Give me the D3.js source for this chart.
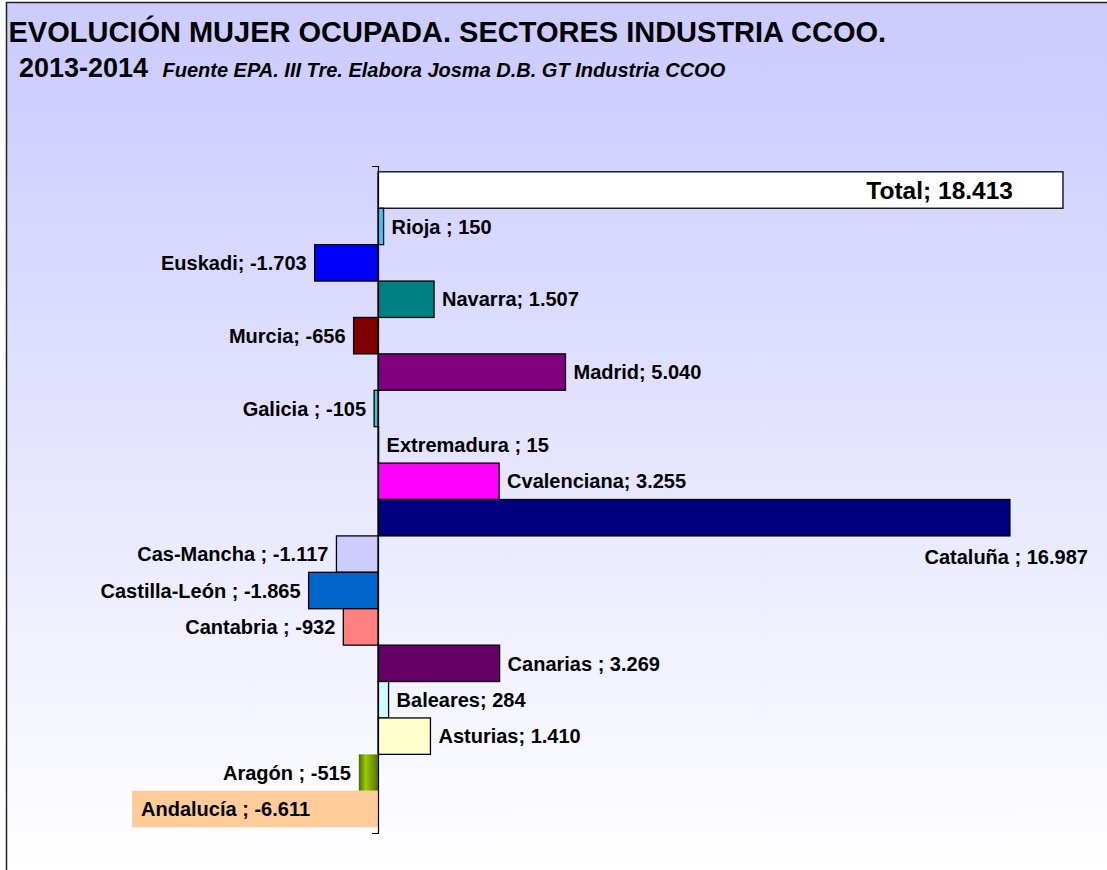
<!DOCTYPE html>
<html>
<head>
<meta charset="utf-8">
<script src="https://cdn.jsdelivr.net/npm/d3@7"></script>
<style>
  body { margin: 0; background: #fff; }
  svg { display: block; font-family: "Liberation Sans", Arial, sans-serif; }
</style>
</head>
<body>
<div class="canvas"></div>
<script>
// data
const regions = ["Total", "Rioja ", "Euskadi", "Navarra", "Murcia", "Madrid", "Galicia ",
  "Extremadura ", "Cvalenciana", "Cataluña ", "Cas-Mancha ", "Castilla-León ", "Cantabria ",
  "Canarias ", "Baleares", "Asturias", "Aragón ", "Andalucía "];
const change = [18413, 150, -1703, 1507, -656, 5040, -105, 15, 3255, 16987, -1117, -1865,
  -932, 3269, 284, 1410, -515, -6611];

const title = "EVOLUCIÓN MUJER OCUPADA. SECTORES INDUSTRIA CCOO.";
const period = "2013-2014";
const source = "Fuente EPA. III Tre. Elabora Josma D.B. GT Industria CCOO";

// styles
const colors = ["#ffffff", "#33ccff", "#0000ff", "#008080", "#800000", "#800080", "#33cccc",
  "#ffffff", "#ff00ff", "#000080", "#ccccff", "#0066cc", "#ff8080", "#660066", "#ccffff",
  "#ffffcc", "url(#aragon)", "#ffcc99"];
// label placement tweaks (dx from bar end, dy from band centre)
const labelTweak = {
  "Total": { anchor: "end", dx: -50, size: 24.5 },
  "Cataluña ": { anchor: "end", dx: 78, dy: 39 },
  "Andalucía ": { anchor: "start", dx: 9 },
};

const width = 1107;
const height = 870;

const svg = d3
  .select(".canvas")
  .append("svg")
  .attr("width", width)
  .attr("height", height);

const defs = svg.append("defs");
const bg = defs
  .append("linearGradient")
  .attr("id", "bg")
  .attr("x1", 0).attr("y1", 0).attr("x2", 0).attr("y2", 1);
bg.append("stop").attr("offset", "0").attr("stop-color", "#ccccff");
bg.append("stop").attr("offset", "0.1").attr("stop-color", "#ceceff");
bg.append("stop").attr("offset", "1").attr("stop-color", "#ffffff");

const ar = defs
  .append("linearGradient")
  .attr("id", "aragon")
  .attr("x1", 0).attr("y1", 0).attr("x2", 1).attr("y2", 0);
ar.append("stop").attr("offset", "0").attr("stop-color", "#4d6600");
ar.append("stop").attr("offset", "0.35").attr("stop-color", "#99cc00");
ar.append("stop").attr("offset", "1").attr("stop-color", "#557300");

// background + frame
svg.append("rect")
  .attr("x", 6).attr("y", 2)
  .attr("width", width - 6).attr("height", height - 2)
  .attr("fill", "url(#bg)");
svg.append("path")
  .attr("d", `M6.5,${height} V2.5 H${width}`)
  .attr("fill", "none")
  .attr("stroke", "#222")
  .attr("stroke-width", 1.5);

// titles
svg.append("text")
  .attr("x", 8.5).attr("y", 42)
  .attr("font-size", 29).attr("font-weight", "bold")
  .text(title);
const sub = svg.append("text").attr("x", 19).attr("y", 77).attr("font-weight", "bold");
sub.append("tspan").attr("font-size", 27).text(period);
sub.append("tspan").attr("x", 162.5).attr("font-size", 20).attr("font-style", "italic").text(source);

// scales
const x = d3.scaleLinear().domain([-10000, 20000]).range([6, 1122]);
const y = d3.scaleBand().domain(regions).range([166, 833]).paddingInner(0).paddingOuter(0.16);

const fmt = d3.formatLocale({
  decimal: ",", thousands: ".", grouping: [3], currency: ["", " €"], minus: "-",
}).format(",d");

const data = regions.map((name, i) => ({ name, value: change[i], color: colors[i] }));

// bars
svg.append("g")
  .selectAll("rect")
  .data(data)
  .enter()
  .append("rect")
  .attr("x", (d) => Math.min(x(0), x(d.value)))
  .attr("y", (d) => y(d.name))
  .attr("width", (d) => Math.abs(x(d.value) - x(0)))
  .attr("height", y.bandwidth())
  .attr("fill", (d) => d.color)
  .attr("stroke", (d) => (d.name === "Andalucía " || d.name === "Aragón " ? "none" : "#000"))
  .attr("stroke-width", 1.3);

// axis (only the zero line with end ticks)
const yLin = d3.scaleLinear().range([166, 833]);
svg.append("g")
  .attr("transform", `translate(${x(0)},0)`)
  .call(d3.axisLeft(yLin).tickValues([]).tickSizeOuter(6))
  .select(".domain")
  .attr("stroke", "#000")
  .attr("stroke-width", 1.2);

// labels
svg.append("g")
  .selectAll("text")
  .data(data)
  .enter()
  .append("text")
  .attr("x", (d) => {
    const t = labelTweak[d.name];
    if (t) return x(d.value) + t.dx;
    return d.value >= 0 ? x(d.value) + 8 : x(d.value) - 8;
  })
  .attr("y", (d) => y(d.name) + y.bandwidth() / 2 + ((labelTweak[d.name] || {}).dy || 0))
  .attr("dy", "0.36em")
  .attr("text-anchor", (d) => {
    const t = labelTweak[d.name];
    if (t) return t.anchor;
    return d.value >= 0 ? "start" : "end";
  })
  .attr("font-size", (d) => (labelTweak[d.name] || {}).size || 20)
  .attr("font-weight", "bold")
  .text((d) => d.name + "; " + fmt(d.value));
</script>
</body>
</html>
